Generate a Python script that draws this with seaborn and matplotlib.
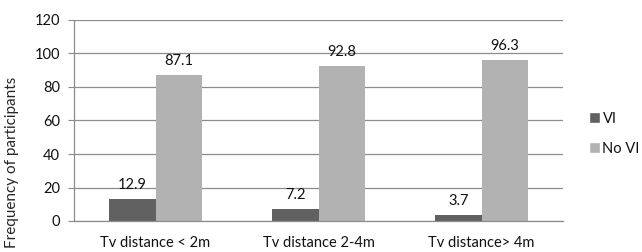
import pandas as pd
import matplotlib.pyplot as plt
import seaborn as sns
from matplotlib.patches import Patch

categories = ['Tv distance < 2m', 'Tv distance 2-4m', 'Tv distance> 4m']
vi_values = [12.9, 7.2, 3.7]
no_vi_values = [87.1, 92.8, 96.3]
series = ['VI', 'No VI']
colors = ['#616161', '#b2b2b2']

df = pd.DataFrame({
    'category': categories * 2,
    'group': ['VI'] * 3 + ['No VI'] * 3,
    'value': vi_values + no_vi_values,
})

sns.set_style('white')
plt.rcParams['font.family'] = ['Lato', 'DejaVu Sans']
plt.rcParams['text.color'] = '#111111'
plt.rcParams['xtick.labelcolor'] = '#111111'
plt.rcParams['ytick.labelcolor'] = '#111111'

fs = 10.5
fig = plt.figure(figsize=(6.42, 2.52), dpi=100)
ax = fig.add_axes([74 / 642, 1 - 221 / 252, (563 - 74) / 642, (221 - 20) / 252])

sns.barplot(data=df, x='category', y='value', hue='group', hue_order=series,
            palette=colors, width=0.57, ax=ax, legend=False, saturation=1,
            linewidth=0)

ax.set_ylim(0, 120)
ax.set_xlim(-0.5, 2.5)
ax.set_yticks(range(0, 121, 20))
ax.yaxis.grid(True, color='#8c8c8c', linewidth=0.9)
ax.set_axisbelow(True)
for s in ['top', 'right']:
    ax.spines[s].set_visible(False)
for s in ['left', 'bottom']:
    ax.spines[s].set_color('#8c8c8c')
    ax.spines[s].set_linewidth(0.9)

ax.set_xticks([-0.5, 0.5, 1.5, 2.5], minor=True)
ax.tick_params(axis='x', which='major', length=0, pad=11, labelsize=fs)
ax.tick_params(axis='x', which='minor', length=5, color='#8c8c8c', direction='out')
ax.tick_params(axis='y', length=4, color='#8c8c8c', labelsize=fs, pad=6, left=True)
ax.set_xlabel('')
ax.set_ylabel('Frequency of participants', fontsize=fs + 0.5)
ax.yaxis.set_label_coords(-0.112, 0.29)

for container in ax.containers:
    ax.bar_label(container, labels=[f'{v.get_height():.1f}' for v in container],
                 padding=5, fontsize=fs)

handles = [Patch(facecolor=c, label=l) for c, l in zip(colors, series)]
fig.legend(handles=handles, loc='center left', bbox_to_anchor=(0.918, 0.47),
           frameon=False, fontsize=fs, handlelength=0.7, handleheight=0.7,
           handletextpad=0.2, labelspacing=1.1, borderpad=0, borderaxespad=0)

fig.savefig('out.png', dpi=100)
